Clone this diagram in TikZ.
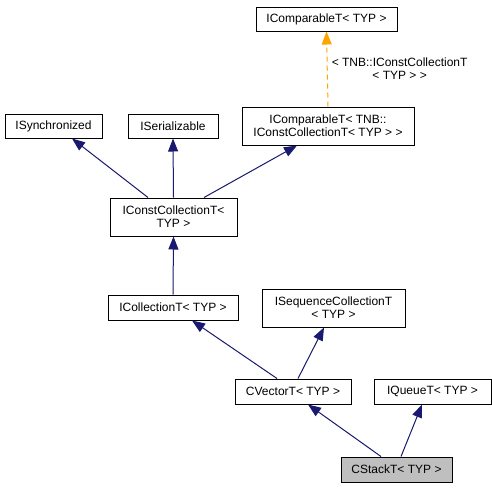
\documentclass[tikz,border=0pt]{standalone}
\usepackage{fontspec}
\setmainfont{Liberation Sans}
\usetikzlibrary{arrows.meta}
\definecolor{edgeblue}{HTML}{191970}
\definecolor{dashorange}{HTML}{FFA500}
\definecolor{boxgray}{HTML}{BFBFBF}
\tikzset{
  cls/.style={draw=black, line width=1pt, fill=white, inner sep=0pt, align=center,
    font=\fontsize{12}{13}\selectfont},
  inh/.style={draw=edgeblue, line width=1pt, -{Triangle[length=13pt,width=10pt]}},
  tmpl/.style={draw=dashorange, line width=1pt, dash pattern=on 5pt off 4pt, -{Triangle[length=13pt,width=10pt]}},
  lbl/.style={align=center, inner sep=0pt, font=\fontsize{12}{13}\selectfont}
}
\begin{document}
\begin{tikzpicture}[x=1pt, y=-1pt]
\useasboundingbox[fill=white] (0,0) rectangle (492,488);
\node[cls, minimum width=141pt, minimum height=24pt] (cmp) at (326.5,19) {IComparableT< TYP >};
\node[cls, minimum width=172pt, minimum height=38pt] (cmpc) at (328,126) {IComparableT< TNB::\\IConstCollectionT< TYP > >};
\node[cls, minimum width=97pt, minimum height=24pt] (sync) at (53.5,126) {ISynchronized};
\node[cls, minimum width=90pt, minimum height=24pt] (ser) at (173,126) {ISerializable};
\node[cls, minimum width=127pt, minimum height=38pt] (ccol) at (173.5,217) {IConstCollectionT<\\TYP >};
\node[cls, minimum width=130pt, minimum height=25pt] (col) at (173,307.5) {ICollectionT< TYP >};
\node[cls, minimum width=143pt, minimum height=38pt] (seq) at (333.5,308) {ISequenceCollectionT\\< TYP >};
\node[cls, minimum width=116pt, minimum height=25pt] (vec) at (293,391.5) {CVectorT< TYP >};
\node[cls, minimum width=117pt, minimum height=25pt] (que) at (432.5,391.5) {IQueueT< TYP >};
\node[cls, fill=boxgray, minimum width=111pt, minimum height=25pt] (stk) at (396.5,469.5) {CStackT< TYP >};

\draw[tmpl] (cmpc.north) -- node[lbl, right=4pt, pos=0.5] (tl) {< TNB::IConstCollectionT\\< TYP > >} (cmp.south);
\draw[inh] ([xshift=-25.5pt]ccol.north) -- ([xshift=18.5pt]sync.south);
\draw[inh] (ccol.north) -- (ser.south);
\draw[inh] ([xshift=30.5pt]ccol.north) -- ([xshift=-31pt]cmpc.south);
\draw[inh] (col.north) -- (ccol.south);
\draw[inh] ([xshift=-16pt]vec.north) -- ([xshift=19pt]col.south);
\draw[inh] ([xshift=5pt]vec.north) -- ([xshift=-9.5pt]seq.south);
\draw[inh] ([xshift=-15.5pt]stk.north) -- ([xshift=15pt]vec.south);
\draw[inh] ([xshift=4.5pt]stk.north) -- ([xshift=-10.5pt]que.south);
\end{tikzpicture}
\end{document}
